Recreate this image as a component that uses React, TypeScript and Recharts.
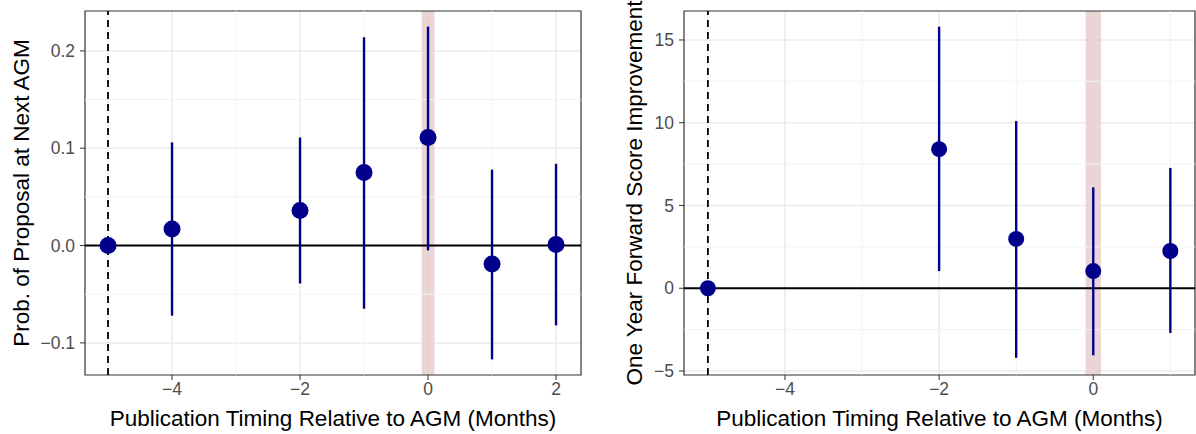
import React from 'react';
import {
  ComposedChart,
  Scatter,
  ErrorBar,
  XAxis,
  YAxis,
  CartesianGrid,
  ReferenceLine,
  ReferenceArea,
  Label,
} from 'recharts';

// left panel: probability of proposal
const leftMonths = [-5, -4, -2, -1, 0, 1, 2];
const leftEstimate = [0, 0.017, 0.036, 0.075, 0.111, -0.019, 0.001];
const leftLower = [0, -0.072, -0.039, -0.065, -0.005, -0.117, -0.082];
const leftUpper = [0, 0.106, 0.111, 0.214, 0.225, 0.078, 0.084];
const leftXTicks = [-4, -2, 0, 2];
const leftXMinor = [-5, -3, -1, 1];
const leftYTicks = [-0.1, 0, 0.1, 0.2];
const leftYMinor = [-0.05, 0.05, 0.15];

// right panel: score improvement
const rightMonths = [-5, -2, -1, 0, 1];
const rightEstimate = [0, 8.4, 2.98, 1.04, 2.25];
const rightLower = [0, 1.04, -4.2, -4.05, -2.7];
const rightUpper = [0, 15.8, 10.1, 6.1, 7.27];
const rightXTicks = [-4, -2, 0];
const rightXMinor = [-5, -3, -1, 1];
const rightYTicks = [-5, 0, 5, 10, 15];
const rightYMinor = [-2.5, 2.5, 7.5, 12.5];

const FONT = '"Liberation Sans", Arial, Helvetica, sans-serif';
const DOT = '#00008b';
const minus = (s: string) => s.replace('-', '\u2212');

const buildRows = (months: number[], est: number[], lo: number[], hi: number[]) =>
  months.map((m, i) => ({
    month: m,
    est: est[i],
    err: [est[i] - lo[i], hi[i] - est[i]],
  }));

interface PanelProps {
  rows: { month: number; est: number; err: number[] }[];
  xDomain: [number, number];
  yDomain: [number, number];
  xTicks: number[];
  xMinor: number[];
  yTicks: number[];
  yMinor: number[];
  yFormat: (v: number) => string;
  yLabel: string;
  yAxisWidth: number;
  yLabelX: number;
  marginRight: number;
  dotR: number;
}

const Panel: React.FC<PanelProps> = (p) => (
  <ComposedChart
    width={598}
    height={434}
    data={p.rows}
    margin={{ top: 11, right: p.marginRight, bottom: 0, left: 0 }}
  >
    <CartesianGrid
      stroke="#ebebeb"
      strokeWidth={1.5}
      horizontalValues={p.yTicks}
      verticalValues={p.xTicks}
    />
    {p.xMinor.map((v) => (
      <ReferenceLine key={'xm' + v} x={v} stroke="#f2f2f2" strokeWidth={1} />
    ))}
    {p.yMinor.map((v) => (
      <ReferenceLine key={'ym' + v} y={v} stroke="#f2f2f2" strokeWidth={1} />
    ))}
    <ReferenceArea x1={-0.1} x2={0.1} fill="#e6cccc" fillOpacity={0.8} stroke="none" />
    <ReferenceLine y={0} stroke="#000" strokeWidth={2} />
    <ReferenceLine x={-5} stroke="#000" strokeWidth={1.8} strokeDasharray="7 5" />
    <XAxis
      type="number"
      dataKey="month"
      domain={p.xDomain}
      allowDataOverflow
      ticks={p.xTicks}
      tickFormatter={(v: number) => minus(String(v))}
      tick={{ fill: '#4d4d4d', fontSize: 17.5, fontFamily: FONT }}
      tickLine={{ stroke: '#333' }}
      tickSize={5}
      tickMargin={3}
      axisLine={false}
      height={59}
    >
      <Label
        content={({ viewBox }: any) => (
          <text
            x={viewBox.x + viewBox.width / 2}
            y={viewBox.y + 43}
            textAnchor="middle"
            dominantBaseline="central"
            fontSize={22.5}
            fontFamily={FONT}
            fill="#000"
          >
            Publication Timing Relative to AGM (Months)
          </text>
        )}
      />
    </XAxis>
    <YAxis
      type="number"
      domain={p.yDomain}
      allowDataOverflow
      ticks={p.yTicks}
      tickFormatter={(v: number) => minus(p.yFormat(v))}
      tick={{ fill: '#4d4d4d', fontSize: 17.5, fontFamily: FONT }}
      tickLine={{ stroke: '#333' }}
      tickSize={5}
      tickMargin={5}
      axisLine={false}
      width={p.yAxisWidth}
    >
      <Label
        content={({ viewBox }: any) => {
          const cx = viewBox.x + p.yLabelX;
          const cy = viewBox.y + viewBox.height / 2;
          return (
            <text
              x={cx}
              y={cy}
              transform={`rotate(-90, ${cx}, ${cy})`}
              textAnchor="middle"
              dominantBaseline="central"
              fontSize={22.5}
              fontFamily={FONT}
              fill="#000"
            >
              {p.yLabel}
            </text>
          );
        }}
      />
    </YAxis>
    <Scatter
      dataKey="est"
      fill={DOT}
      isAnimationActive={false}
      shape={(s: any) => <circle cx={s.cx} cy={s.cy} r={p.dotR} fill={DOT} />}
    >
      <ErrorBar dataKey="err" direction="y" width={0} stroke={DOT} strokeWidth={2.4} />
    </Scatter>
    <ReferenceArea
      x1={p.xDomain[0]}
      x2={p.xDomain[1]}
      y1={p.yDomain[0]}
      y2={p.yDomain[1]}
      fill="none"
      stroke="#333"
      strokeWidth={1.2}
    />
  </ComposedChart>
);

export default function App() {
  const leftRows = buildRows(leftMonths, leftEstimate, leftLower, leftUpper);
  const rightRows = buildRows(rightMonths, rightEstimate, rightLower, rightUpper);
  return (
    <div
      style={{
        position: 'fixed',
        top: 0,
        left: 0,
        width: 1196,
        height: 434,
        background: '#fff',
        display: 'flex',
      }}
    >
      <Panel
        rows={leftRows}
        xDomain={[-5.36, 2.39]}
        yDomain={[-0.133, 0.241]}
        xTicks={leftXTicks}
        xMinor={leftXMinor}
        yTicks={leftYTicks}
        yMinor={leftYMinor}
        yFormat={(v) => v.toFixed(1)}
        yLabel="Prob. of Proposal at Next AGM"
        yAxisWidth={85}
        yLabelX={21}
        marginRight={17}
        dotR={8.5}
      />
      <Panel
        rows={rightRows}
        xDomain={[-5.31, 1.32]}
        yDomain={[-5.24, 16.75]}
        xTicks={rightXTicks}
        xMinor={rightXMinor}
        yTicks={rightYTicks}
        yMinor={rightYMinor}
        yFormat={(v) => String(v)}
        yLabel="One Year Forward Score Improvement"
        yAxisWidth={86}
        yLabelX={36}
        marginRight={1}
        dotR={8}
      />
    </div>
  );
}
